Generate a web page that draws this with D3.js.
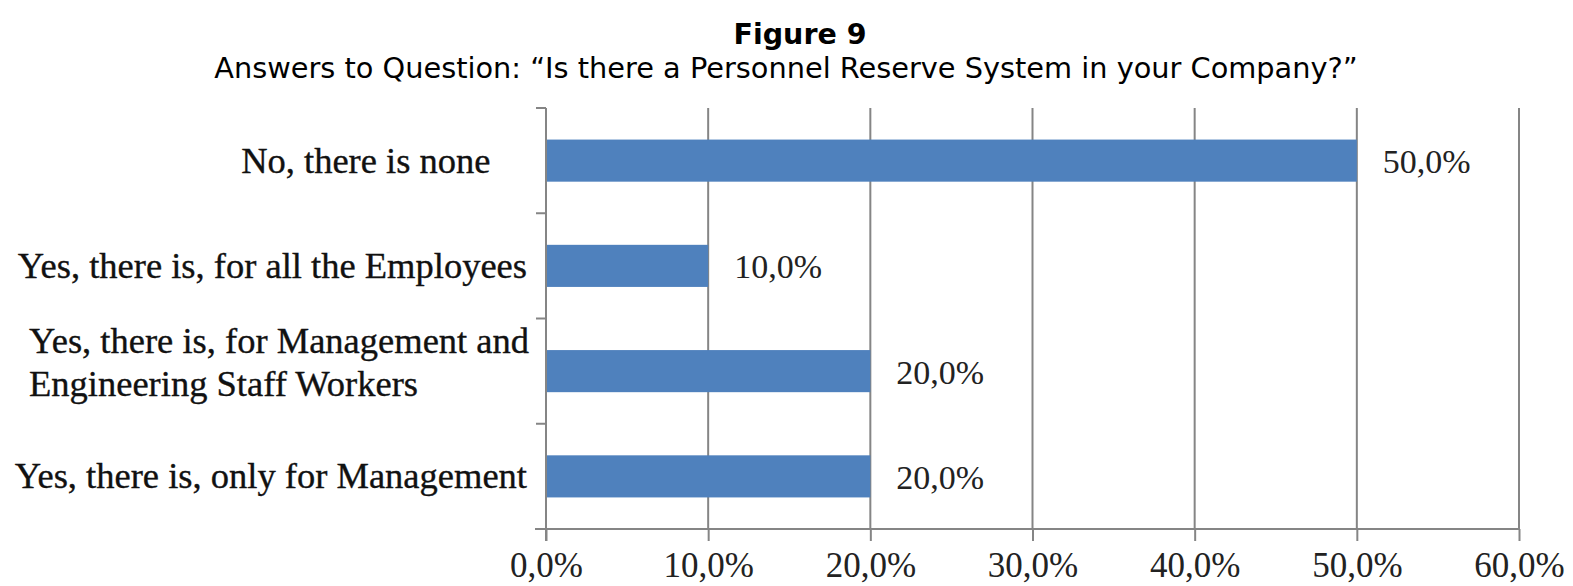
<!DOCTYPE html>
<html>
<head>
<meta charset="utf-8">
<script src="https://cdn.jsdelivr.net/npm/d3@7/dist/d3.min.js"></script>
<style>
  html, body { margin: 0; padding: 0; background: #fff; }
  svg { display: block; }
  .cat { white-space: pre; }
</style>
</head>
<body>
<svg id="chart" width="1573" height="586"></svg>
<script>
// Survey answers, top to bottom
const categories = [
  ["No, there is none    "],
  ["Yes, there is, for all the Employees"],
  ["Yes, there is, for Management and", "Engineering Staff Workers"],
  ["Yes, there is, only for Management"]
];
const values = [50.0, 10.0, 20.0, 20.0];
const xTicks = [0, 10, 20, 30, 40, 50, 60];
const titleText = "Figure 9";
const subtitleText = "Answers to Question: \u201CIs there a Personnel Reserve System in your Company?\u201D";

const svg = d3.select("#chart");
const W = 1573, H = 586;
const margin = { left: 546, right: 54, top: 108, bottom: 57 };
const innerW = W - margin.left - margin.right;
const innerH = H - margin.top - margin.bottom;

const fmt = v => v.toFixed(1).replace(".", ",") + "%";
const keys = categories.map((c, i) => i);

const x = d3.scaleLinear().domain([0, 60]).range([0, innerW]);
const y = d3.scaleBand().domain(keys).range([0, innerH]).paddingInner(0.6).paddingOuter(0.3);

const gridColor = "#858585";
const serif = "'Liberation Serif', 'Times New Roman', serif";

// Titles
svg.append("text")
  .attr("x", 800).attr("y", 44)
  .attr("text-anchor", "middle")
  .style("font-family", "'DejaVu Sans', Verdana, sans-serif")
  .style("font-weight", "bold")
  .style("font-size", "28.5px")
  .text(titleText);
svg.append("text")
  .attr("x", 786).attr("y", 78)
  .attr("text-anchor", "middle")
  .style("font-family", "'DejaVu Sans', Verdana, sans-serif")
  .style("font-size", "28.8px")
  .text(subtitleText);

const g = svg.append("g").attr("transform", `translate(${margin.left},${margin.top})`);

// Vertical gridlines
g.append("g").selectAll("line")
  .data(xTicks.slice(1))
  .join("line")
  .attr("x1", d => x(d)).attr("x2", d => x(d))
  .attr("y1", 0).attr("y2", innerH)
  .attr("stroke", gridColor).attr("stroke-width", 2);

// Bars
g.append("g").selectAll("rect")
  .data(values)
  .join("rect")
  .attr("x", 0)
  .attr("y", (d, i) => y(i))
  .attr("width", d => x(d))
  .attr("height", y.bandwidth())
  .attr("fill", "#4f81bd");

// Value labels
g.append("g").selectAll("text")
  .data(values)
  .join("text")
  .attr("x", d => x(d) + 26)
  .attr("y", (d, i) => y(i) + y.bandwidth() / 2 + 12.5)
  .style("font-family", serif)
  .style("font-size", "34px")
  .attr("fill", "#222")
  .text(d => fmt(d));

// Bottom axis
const xAxis = d3.axisBottom(x)
  .tickValues(xTicks)
  .tickSize(12)
  .tickSizeOuter(0)
  .tickFormat(d => fmt(d));
const xg = g.append("g").attr("transform", `translate(0,${innerH})`).call(xAxis);
xg.select(".domain").remove();
xg.append("line").attr("x1", -11).attr("x2", innerW).attr("y1", 0).attr("y2", 0)
  .attr("stroke", gridColor).attr("stroke-width", 2);
xg.selectAll(".tick line").attr("stroke", gridColor).attr("stroke-width", 2);
xg.selectAll(".tick text")
  .attr("y", 48).attr("dy", 0)
  .style("font-family", serif)
  .style("font-size", "35px")
  .attr("fill", "#222");

// Left axis: category boundaries
const bounds = d3.range(categories.length + 1).map(i => i * innerH / categories.length);
g.append("line").attr("x1", 0).attr("x2", 0).attr("y1", 0).attr("y2", innerH + 12)
  .attr("stroke", gridColor).attr("stroke-width", 2);
g.append("g").selectAll("line")
  .data(bounds)
  .join("line")
  .attr("x1", -10).attr("x2", 0)
  .attr("y1", d => d).attr("y2", d => d)
  .attr("stroke", gridColor).attr("stroke-width", 2);

// Category labels: single lines right-aligned, wrapped label left-aligned
const catG = g.append("g");
categories.forEach((lines, i) => {
  const cy = y(i) + y.bandwidth() / 2;
  const lh = 43;
  const multi = lines.length > 1;
  const t = catG.append("text")
    .attr("class", "cat")
    .attr("text-anchor", multi ? "start" : "end")
    .style("font-family", serif)
    .style("font-size", "36.5px")
    .attr("fill", "#111")
    .attr("stroke", "#111")
    .attr("stroke-width", 0.35);
  lines.forEach((ln, j) => {
    t.append("tspan")
      .attr("x", multi ? -517 : -19)
      .attr("y", multi ? cy + 3.5 + (j - (lines.length - 1) / 2) * lh : cy + 12)
      .text(ln);
  });
});
</script>
</body>
</html>
